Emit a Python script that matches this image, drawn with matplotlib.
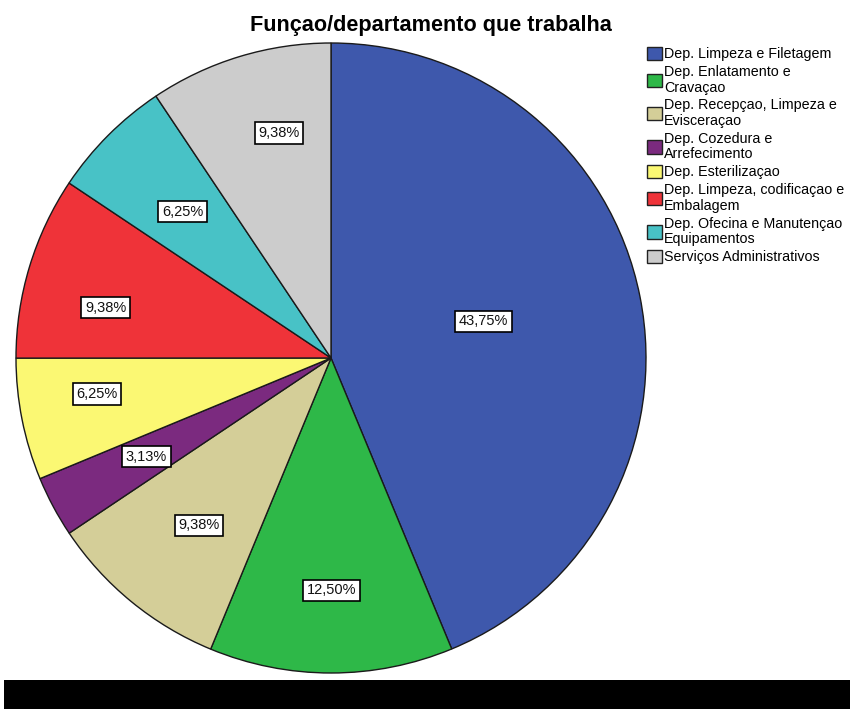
import numpy as np
import matplotlib
matplotlib.use("Agg")
import matplotlib.pyplot as plt
from matplotlib.patches import Rectangle, Patch

plt.rcParams['font.family'] = ['Liberation Sans', 'DejaVu Sans']

title = "Funçao/departamento que trabalha"
categories = [
    "Dep. Limpeza e Filetagem",
    "Dep. Enlatamento e\nCravaçao",
    "Dep. Recepçao, Limpeza e\nEvisceraçao",
    "Dep. Cozedura e\nArrefecimento",
    "Dep. Esterilizaçao",
    "Dep. Limpeza, codificaçao e\nEmbalagem",
    "Dep. Ofecina e Manutençao\nEquipamentos",
    "Serviços Administrativos",
]
percents = [43.75, 12.50, 9.38, 3.13, 6.25, 9.38, 6.25, 9.38]
colors = ["#3E58AC", "#2EB848", "#D4CE98", "#7B2A7F", "#FBF873",
          "#EF3339", "#48C2C6", "#CCCCCC"]
# label placement (radial fraction, angular nudge in degrees)
label_dist = [0.498, 0.737, 0.676, 0.665, 0.752, 0.733, 0.662, 0.733]
label_nudge = [2.2, 0.0, 1.1, 0.0, -2.5, 4.3, 0.4, -3.9]

fig = plt.figure(figsize=(8.5, 7.09), dpi=100)
fig.patch.set_facecolor("white")
ax = fig.add_axes([16/850, 36/709, 630/850, 630/709])
wedges, _ = ax.pie(percents, colors=colors, startangle=90, counterclock=False,
                   wedgeprops=dict(edgecolor="#1a1a1a", linewidth=1.0))
ax.set_xlim(-1, 1)
ax.set_ylim(-1, 1)
ax.set_aspect("equal")
ax.axis("off")

for w, p, d, n in zip(wedges, percents, label_dist, label_nudge):
    ang = np.deg2rad((w.theta1 + w.theta2) / 2 + n)
    ax.text(d * np.cos(ang), d * np.sin(ang), f"{p:.2f}%".replace(".", ","),
            ha="center", va="center", fontsize=10.5, color="#111111",
            bbox=dict(boxstyle="square,pad=0.25", facecolor="white",
                      edgecolor="black", linewidth=1.2))

fig.text(431/850, 1 - 25/709, title, ha="center", va="center",
         fontsize=15.6, fontweight="bold")

handles = [Patch(facecolor=c, edgecolor="#222222", linewidth=1.0) for c in colors]
leg = fig.legend(handles, categories, loc="upper left",
                 bbox_to_anchor=(641/850, 1 - 41/709), frameon=False,
                 fontsize=10.3, handlelength=1.05, handleheight=1.05,
                 handletextpad=0.15, labelspacing=0.27, borderaxespad=0)
for t in leg.get_texts():
    t.set_linespacing(1.13)

fig.patches.append(Rectangle((4/850, 0), 1 - 4/850, 29/709,
                             transform=fig.transFigure, facecolor="black",
                             edgecolor="none", zorder=10))

fig.savefig("out.png", dpi=100)
